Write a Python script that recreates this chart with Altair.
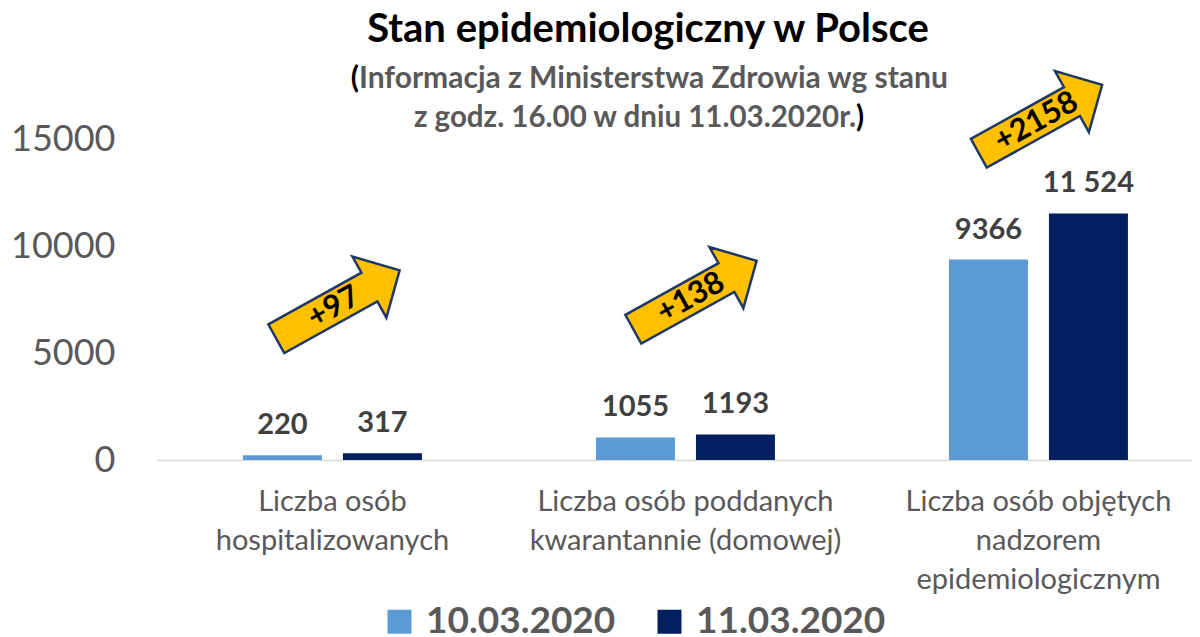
import altair as alt
import pandas as pd

# ---------------- data ----------------
categories = [
    "Liczba osób\nhospitalizowanych",
    "Liczba osób poddanych\nkwarantannie (domowej)",
    "Liczba osób objętych\nnadzorem\nepidemiologicznym",
]
dates = ["10.03.2020", "11.03.2020"]
values_10 = [220, 1055, 9366]
values_11 = [317, 1193, 11524]
labels_10 = ["220", "1055", "9366"]
labels_11 = ["317", "1193", "11 524"]
y_ticks = [0, 5000, 10000, 15000]
colors = ["#5B9BD5", "#002060"]

title_text = "Stan epidemiologiczny w Polsce"
sub_line1 = "Informacja z Ministerstwa Zdrowia wg stanu"
sub_line2 = "z godz. 16.00 w dniu 11.03.2020r."

rows = []
for c, v, l in zip(categories, values_10, labels_10):
    rows.append({"cat": c, "date": dates[0], "value": v, "label": l})
for c, v, l in zip(categories, values_11, labels_11):
    rows.append({"cat": c, "date": dates[1], "value": v, "label": l})
df = pd.DataFrame(rows)

changes = pd.DataFrame({
    "cat": categories,
    "change": ["+%d" % (b - a) for a, b in zip(values_10, values_11)],
})

# ---------------- style ----------------
FONT = "Lato"
W, H = 1035, 321
GRAY = "#595959"
ARROW = "M-1,-0.233L0.51,-0.233L0.51,-0.496L1,0L0.51,0.496L0.51,0.233L-1,0.233Z"

x_enc = alt.X(
    "cat:N",
    sort=categories,
    scale=alt.Scale(paddingInner=0.493, paddingOuter=0.2125, align=0.573),
    axis=alt.Axis(
        title=None,
        labelExpr="split(datum.label, '\\n')",
        labelFont=FONT,
        labelFontSize=29,
        labelColor=GRAY,
        labelLineHeight=39,
        labelPadding=27,
        labelAngle=0,
        labelBaseline="top",
        labelLimit=0,
        ticks=False,
        domainColor="#D9D9D9",
        domainWidth=1.5,
        grid=False,
    ),
)
y_enc = alt.Y(
    "value:Q",
    scale=alt.Scale(domain=[0, 15000], nice=False),
    axis=alt.Axis(
        title=None,
        values=y_ticks,
        format="d",
        grid=False,
        domain=False,
        ticks=False,
        labelFont=FONT,
        labelFontSize=36,
        labelColor=GRAY,
        labelPadding=42,
    ),
)
xoff = alt.XOffset("date:N", sort=dates, scale=alt.Scale(paddingInner=0.21, paddingOuter=0))

bars = alt.Chart(df).mark_bar().encode(
    x=x_enc,
    y=y_enc,
    xOffset=xoff,
    color=alt.Color(
        "date:N",
        sort=dates,
        scale=alt.Scale(domain=dates, range=colors),
        legend=alt.Legend(
            title=None,
            orient="none",
            legendX=224,
            legendY=464,
            direction="horizontal",
            symbolType="square",
            symbolSize=576,
            symbolStrokeWidth=0,
            symbolOpacity=1,
            labelFont=FONT,
            labelFontSize=37,
            labelFontWeight="bold",
            labelColor=GRAY,
            labelOffset=8,
            labelLimit=0,
            columnPadding=35,
        ),
    ),
)

bar_labels = alt.Chart(df).mark_text(
    dy=-21, baseline="alphabetic", font=FONT, fontSize=29, fontWeight="bold", color="#404040"
).encode(x=alt.X("cat:N", sort=categories), xOffset=xoff, y="value:Q", text="label:N")

layers = [bars, bar_labels]

# arrows with change annotation: (x offset px from group start, y px relative to plot top)
arrow_pos = [(95, 165.5), (99, 156), (91.5, -20)]
for cat, (ox, ypx) in zip(categories, arrow_pos):
    base = alt.Chart(changes).transform_filter(alt.datum.cat == cat)
    layers.append(
        base.mark_point(
            shape=ARROW, size=19881, angle=331, filled=True, fill="#FFC000",
            stroke="#1F3864", strokeWidth=2.5, opacity=1,
        ).encode(x=alt.X("cat:N", sort=categories), xOffset=alt.value(ox), y=alt.value(ypx))
    )
    layers.append(
        base.mark_text(
            angle=331, font=FONT, fontSize=31, fontWeight="bold", color="#000000",
            align="center", baseline="middle",
        ).encode(x=alt.X("cat:N", sort=categories), xOffset=alt.value(ox - 4), y=alt.value(ypx + 3), text="change:N")
    )

def txt(s, x, y, size, color, align="center", weight="bold"):
    return alt.Chart(pd.DataFrame({"t": [s]})).mark_text(
        font=FONT, fontSize=size, fontWeight=weight, color=color, align=align, baseline="alphabetic"
    ).encode(text="t:N", x=alt.value(x), y=alt.value(y))

layers += [
    txt(title_text, 491, -97, 40, "#000000"),
    txt("(", 202, -51, 30, "#000000", align="right"),
    txt(sub_line1, 202, -51, 30, GRAY, align="left"),
    txt(sub_line2, 699, -12, 29.5, GRAY, align="right"),
    txt(")", 699, -12, 29.5, "#000000", align="left"),
]

chart = alt.layer(*layers).properties(
    width=W,
    height=H,
    padding={"left": 149, "top": 131, "right": 0, "bottom": 177},
    autosize=alt.AutoSizeParams(type="none"),
    background="white",
).configure_view(stroke=None)

chart.save("out.html", embed_options={"renderer": "svg", "actions": False})
